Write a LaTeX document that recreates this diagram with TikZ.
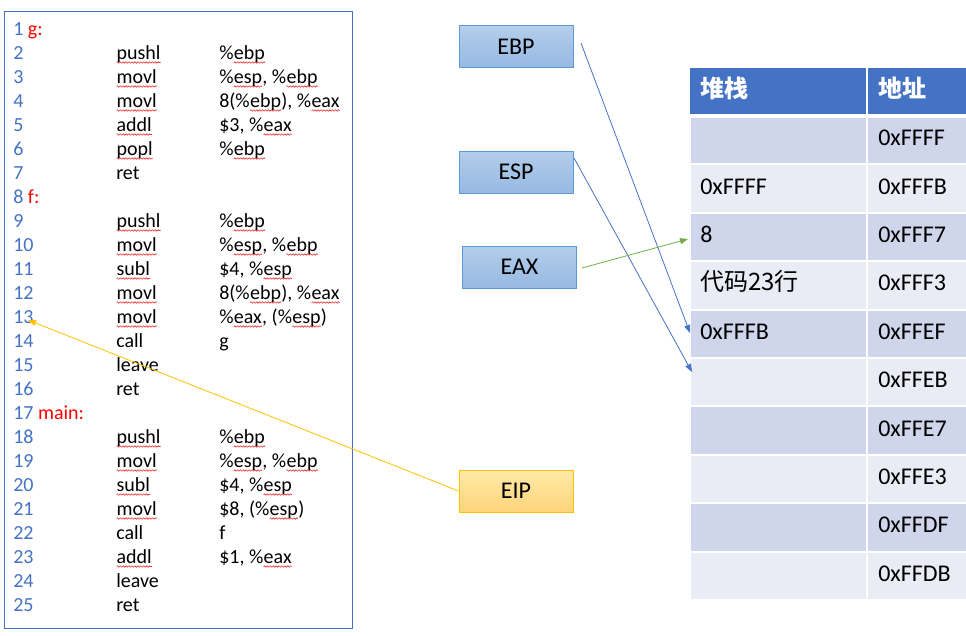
\documentclass[tikz,border=0pt]{standalone}
\usepackage{fontspec}
\setmainfont{Carlito}
\newfontfamily\cjk{Noto Sans CJK SC}
\usetikzlibrary{arrows.meta,decorations.pathmorphing}
\definecolor{numblue}{HTML}{4472C4}
\definecolor{labred}{HTML}{FF0000}
\definecolor{rowdark}{HTML}{CFD5EA}
\definecolor{rowlight}{HTML}{E9EBF5}
\definecolor{regtop}{HTML}{B4CDEA}
\definecolor{regbot}{HTML}{96B9E3}
\definecolor{regline}{HTML}{5B9BD5}
\definecolor{iptop}{HTML}{FFE9A8}
\definecolor{ipbot}{HTML}{FFD47A}
\definecolor{ipline}{HTML}{FFC000}
\definecolor{eaxgreen}{HTML}{70AD47}
\definecolor{wavered}{HTML}{E8302A}
\newcommand\sq[1]{\tikz[baseline=(sqw.base)]{\node[inner sep=0pt,outer sep=0pt] (sqw) {#1};
  \draw[wavered,line width=0.45pt,decorate,decoration={zigzag,segment length=2.2pt,amplitude=0.55pt}]
   ([yshift=-2.4pt]sqw.base west) -- ([yshift=-2.4pt]sqw.base east);}}
\newcommand\Ln[1]{\node[num] (n#1) at (13,{35.3+24*(#1-1)}) {#1};}
\newcommand\Lb[2]{\node[num] (n#1) at (13,{35.3+24*(#1-1)}) {#1 \textcolor{labred}{#2}};}
\newcommand\Mn[2]{\node[code] (m#1) at (116,{35.3+24*(#1-1)}) {#2};}
\newcommand\Op[2]{\node[code] (o#1) at (219,{35.3+24*(#1-1)}) {#2};}
\newcommand\Ca[2]{\node[cell] (a#1) at (700,{116+48.4*(#1-0.5)+5.5}) {#2};}
\newcommand\Cb[2]{\node[cell] (b#1) at (878,{116+48.4*(#1-0.5)+5.5}) {#2};}
\begin{document}
\begin{tikzpicture}[x=0.75pt,y=-0.75pt,
  num/.style={anchor=base west,inner sep=0pt,text=numblue,font=\fontsize{15}{18}\selectfont},
  code/.style={anchor=base west,inner sep=0pt,text=black,font=\fontsize{15}{18}\selectfont},
  cell/.style={anchor=base west,inner sep=0pt,text=black,font=\fontsize{18}{22}\selectfont},
  head/.style={anchor=base west,inner sep=0pt,text=white,font=\fontsize{18}{22}\selectfont\cjk\bfseries},
  reg/.style={draw=regline,line width=0.75pt,top color=regtop,bottom color=regbot,
    minimum width=85.5pt,minimum height=31.5pt,inner sep=0pt,font=\fontsize{18}{22}\selectfont},
  ipreg/.style={reg,draw=ipline,top color=iptop,bottom color=ipbot},
  ptr/.style={-{Triangle[length=6pt,width=4.5pt]},line width=0.6pt},
  tcell/.style={draw=white,line width=1.5pt}
]
\useasboundingbox (0,0) rectangle (966,635);
% code box
\draw[numblue,line width=0.75pt] (4,12) rectangle (352,628);
\Lb{1}{g:}
\Ln{2}\Mn{2}{\sq{pushl}}\Op{2}{\%\sq{ebp}}
\Ln{3}\Mn{3}{\sq{movl}}\Op{3}{\%\sq{esp}, \%\sq{ebp}}
\Ln{4}\Mn{4}{\sq{movl}}\Op{4}{8(\%\sq{ebp}), \%\sq{eax}}
\Ln{5}\Mn{5}{\sq{addl}}\Op{5}{\$3, \%\sq{eax}}
\Ln{6}\Mn{6}{\sq{popl}}\Op{6}{\%\sq{ebp}}
\Ln{7}\Mn{7}{ret}
\Lb{8}{f:}
\Ln{9}\Mn{9}{\sq{pushl}}\Op{9}{\%\sq{ebp}}
\Ln{10}\Mn{10}{\sq{movl}}\Op{10}{\%\sq{esp}, \%\sq{ebp}}
\Ln{11}\Mn{11}{\sq{subl}}\Op{11}{\$4, \%\sq{esp}}
\Ln{12}\Mn{12}{\sq{movl}}\Op{12}{8(\%\sq{ebp}), \%\sq{eax}}
\Ln{13}\Mn{13}{\sq{movl}}\Op{13}{\%\sq{eax}, (\%\sq{esp})}
\Ln{14}\Mn{14}{call}\Op{14}{g}
\Ln{15}\Mn{15}{leave}
\Ln{16}\Mn{16}{ret}
\Lb{17}{main:}
\Ln{18}\Mn{18}{\sq{pushl}}\Op{18}{\%\sq{ebp}}
\Ln{19}\Mn{19}{\sq{movl}}\Op{19}{\%\sq{esp}, \%\sq{ebp}}
\Ln{20}\Mn{20}{\sq{subl}}\Op{20}{\$4, \%\sq{esp}}
\Ln{21}\Mn{21}{\sq{movl}}\Op{21}{\$8, (\%\sq{esp})}
\Ln{22}\Mn{22}{call}\Op{22}{f}
\Ln{23}\Mn{23}{\sq{addl}}\Op{23}{\$1, \%\sq{eax}}
\Ln{24}\Mn{24}{leave}
\Ln{25}\Mn{25}{ret}
% table
\fill[numblue] (690,68) rectangle (966,116);
\draw[white,line width=1.5pt] (867,68) -- (867,116);
\foreach \i in {1,...,10}{
  \pgfmathsetmacro\yt{116+48.4*(\i-1)}
  \pgfmathsetmacro\yb{116+48.4*\i}
  \ifodd\i \def\rc{rowdark}\else\def\rc{rowlight}\fi
  \path[tcell,fill=\rc] (690,\yt) rectangle (867,\yb);
  \path[tcell,fill=\rc] (867,\yt) rectangle (968,\yb);
}
\draw[white,line width=2.5pt] (690,116) -- (966,116);
\node[head] (h1) at (700,98) {堆栈};
\node[head] (h2) at (878,98) {地址};
\Ca{2}{0xFFFF}
\Ca{3}{8}
\Ca{4}{\cjk 代码23行}
\Ca{5}{0xFFFB}
\Cb{1}{0xFFFF}
\Cb{2}{0xFFFB}
\Cb{3}{0xFFF7}
\Cb{4}{0xFFF3}
\Cb{5}{0xFFEF}
\Cb{6}{0xFFEB}
\Cb{7}{0xFFE7}
\Cb{8}{0xFFE3}
\Cb{9}{0xFFDF}
\Cb{10}{0xFFDB}
% registers
\node[reg] (ebp) at (516,47) {EBP};
\node[reg] (esp) at (516,172) {ESP};
\node[reg] (eax) at (519.5,267) {EAX};
\node[ipreg] (eip) at (516,491) {EIP};
\coordinate (ebpS) at (581,43);
\coordinate (ebpT) at (690,333);
\coordinate (espS) at (574,158);
\coordinate (espT) at (692,372);
\coordinate (eaxS) at (582,268);
\coordinate (eaxT) at (688,239);
\coordinate (eipT) at (28,320);
\draw[ptr,numblue] (ebpS) -- (ebpT);
\draw[ptr,numblue] (espS) -- (espT);
\draw[ptr,eaxgreen] (eaxS) -- (eaxT);
\draw[ptr,ipline] (eip.west) -- (eipT);
\end{tikzpicture}
\end{document}
